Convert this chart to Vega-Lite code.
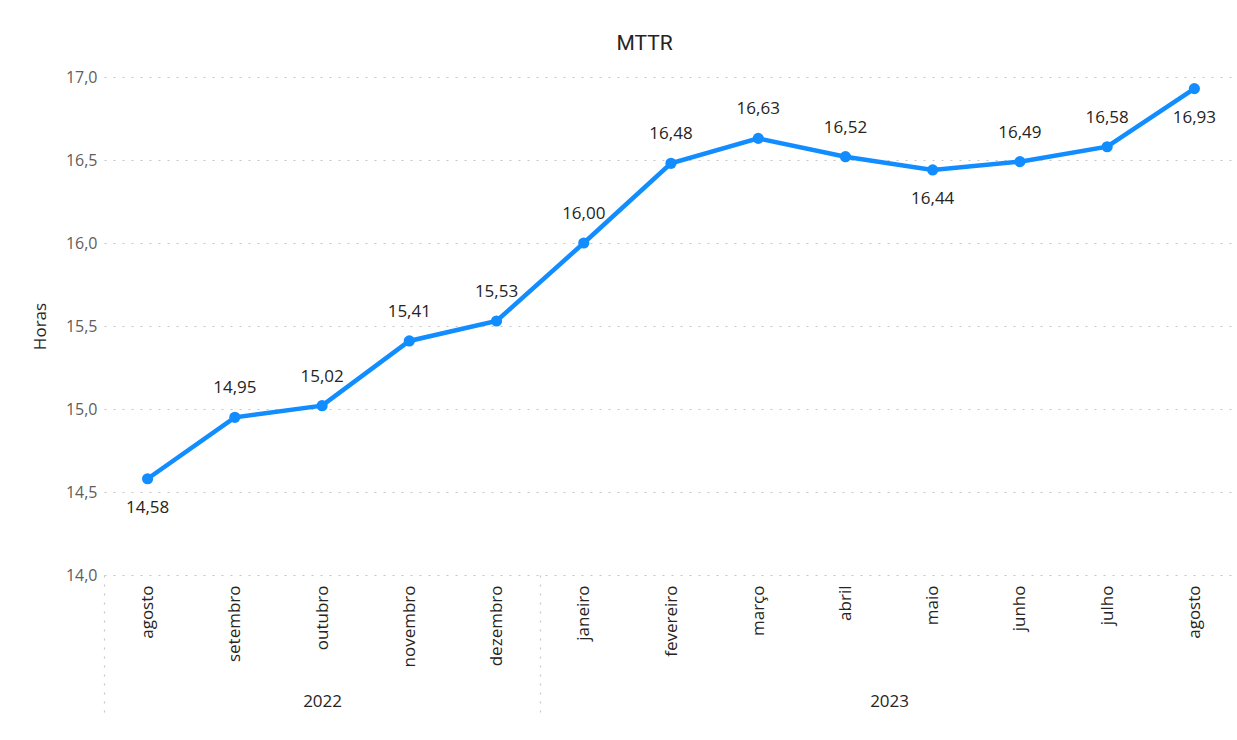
{
  "$schema": "https://vega.github.io/schema/vega-lite/v6.json",
  "width": 1134,
  "height": 498,
  "padding": {"left": 31, "top": 33, "right": 0, "bottom": 0},
  "background": "white",
  "title": {
    "text": "MTTR",
    "anchor": "middle",
    "frame": "bounds",
    "dx": 10,
    "font": "Roboto",
    "fontSize": 21,
    "fontWeight": "normal",
    "color": "#252423",
    "offset": 15
  },
  "data": {
    "values": [
      {"i": 0, "ano": "2022", "mes": "agosto", "mttr": 14.58},
      {"i": 1, "ano": "2022", "mes": "setembro", "mttr": 14.95},
      {"i": 2, "ano": "2022", "mes": "outubro", "mttr": 15.02},
      {"i": 3, "ano": "2022", "mes": "novembro", "mttr": 15.41},
      {"i": 4, "ano": "2022", "mes": "dezembro", "mttr": 15.53},
      {"i": 5, "ano": "2023", "mes": "janeiro", "mttr": 16.00},
      {"i": 6, "ano": "2023", "mes": "fevereiro", "mttr": 16.48},
      {"i": 7, "ano": "2023", "mes": "março", "mttr": 16.63},
      {"i": 8, "ano": "2023", "mes": "abril", "mttr": 16.52},
      {"i": 9, "ano": "2023", "mes": "maio", "mttr": 16.44},
      {"i": 10, "ano": "2023", "mes": "junho", "mttr": 16.49},
      {"i": 11, "ano": "2023", "mes": "julho", "mttr": 16.58},
      {"i": 12, "ano": "2023", "mes": "agosto", "mttr": 16.93}
    ]
  },
  "encoding": {
    "y": {
      "field": "mttr",
      "type": "quantitative",
      "scale": {"domain": [14, 17], "nice": false, "zero": false},
      "axis": {
        "title": "Horas",
        "values": [14, 14.5, 15, 15.5, 16, 16.5, 17],
        "format": ".1f",
        "domain": false,
        "ticks": false,
        "labelPadding": 7,
        "labelFont": "Open Sans",
        "labelFontSize": 16,
        "labelColor": "#605E5C",
        "titleFont": "Open Sans",
        "titleFontSize": 17,
        "titleFontWeight": "normal",
        "titleColor": "#252423",
        "titlePadding": 15,
        "minExtent": 40,
        "maxExtent": 40,
        "grid": true,
        "gridDash": [2, 7],
        "gridColor": "#C8C6C4",
        "gridWidth": 1.2
      }
    }
  },
  "layer": [
    {
      "mark": {"type": "line", "color": "#118DFF", "strokeWidth": 4.5},
      "encoding": {
        "x": {
          "field": "i",
          "type": "quantitative",
          "scale": {"domain": [-0.5, 12.5], "nice": false, "zero": false},
          "axis": {
            "orient": "bottom",
            "title": null,
            "values": [0, 1, 2, 3, 4, 5, 6, 7, 8, 9, 10, 11, 12],
            "labelExpr": "['agosto','setembro','outubro','novembro','dezembro','janeiro','fevereiro','março','abril','maio','junho','julho','agosto'][datum.value]",
            "labelAngle": -90,
            "labelAlign": "right",
            "labelBaseline": "middle",
            "labelPadding": 10,
            "labelFont": "Open Sans",
            "labelFontSize": 17,
            "labelColor": "#252423",
            "ticks": false,
            "domain": false,
            "grid": false,
            "labelOverlap": false
          }
        }
      }
    },
    {
      "mark": {"type": "point", "filled": true, "color": "#118DFF", "opacity": 1, "size": 125},
      "encoding": {
        "x": {
          "field": "i",
          "type": "quantitative",
          "scale": {"domain": [-0.5, 12.5], "nice": false, "zero": false},
          "axis": {
            "orient": "bottom",
            "title": null,
            "values": [-0.5, 2, 4.5, 8.5],
            "labelExpr": "datum.value == 2 ? '2022' : datum.value == 8.5 ? '2023' : ''",
            "labelAngle": 0,
            "labelAlign": "center",
            "labelBaseline": "middle",
            "labelFont": "Open Sans",
            "labelFontSize": 17,
            "labelColor": "#252423",
            "labelPadding": -14,
            "ticks": true,
            "tickSize": 140,
            "tickDash": [2, 7],
            "tickColor": "#C8C6C4",
            "tickWidth": 1.2,
            "tickOpacity": {"condition": {"test": "datum.value == 2 || datum.value == 8.5", "value": 0}, "value": 1},
            "domain": false,
            "grid": false,
            "labelOverlap": false,
            "labelFlush": false
          }
        }
      }
    },
    {
      "transform": [{"filter": "datum.i != 0 && datum.i != 9 && datum.i != 12"}],
      "mark": {"type": "text", "dy": -29, "font": "Open Sans", "fontSize": 17, "color": "#252423", "baseline": "middle"},
      "encoding": {
        "x": {"field": "i", "type": "quantitative", "scale": {"domain": [-0.5, 12.5], "nice": false, "zero": false}, "axis": null},
        "text": {"field": "mttr", "type": "quantitative", "format": ".2f"}
      }
    },
    {
      "transform": [{"filter": "datum.i == 0 || datum.i == 9 || datum.i == 12"}],
      "mark": {"type": "text", "dy": 29, "font": "Open Sans", "fontSize": 17, "color": "#252423", "baseline": "middle"},
      "encoding": {
        "x": {"field": "i", "type": "quantitative", "scale": {"domain": [-0.5, 12.5], "nice": false, "zero": false}, "axis": null},
        "text": {"field": "mttr", "type": "quantitative", "format": ".2f"}
      }
    }
  ],
  "resolve": {"axis": {"x": "independent"}},
  "config": {
    "locale": {"number": {"decimal": ",", "thousands": ".", "grouping": [3], "currency": ["R$", ""]}},
    "view": {"stroke": null}
  }
}
